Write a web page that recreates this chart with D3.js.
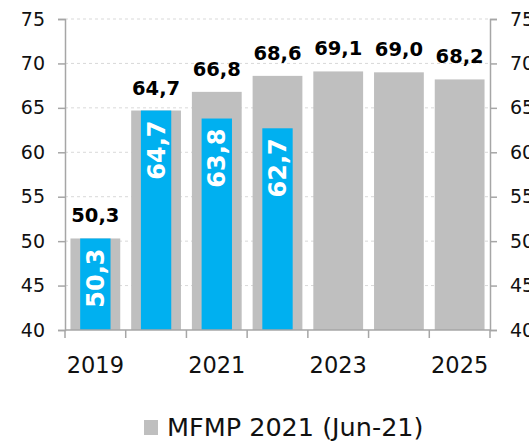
<!DOCTYPE html>
<html>
<head>
<meta charset="utf-8">
<script src="https://cdn.jsdelivr.net/npm/d3@7"></script>
<style>
  html, body { margin: 0; padding: 0; background: #fff; }
  svg { display: block; font-family: "DejaVu Sans", sans-serif; }
</style>
</head>
<body>
<svg id="chart" width="529" height="442"></svg>
<script>
const years = ["2019", "2020", "2021", "2022", "2023", "2024", "2025"];
const mfmpValues = [50.3, 64.7, 66.8, 68.6, 69.1, 69.0, 68.2];
const actualYears = ["2019", "2020", "2021", "2022"];
const actualValues = [50.3, 64.7, 63.8, 62.7];
const yTicks = [40, 45, 50, 55, 60, 65, 70, 75];
const xLabelYears = ["2019", "2021", "2023", "2025"];
const legendLabel = "MFMP 2021 (Jun-21)";

const fmt = v => d3.format(".1f")(v).replace(".", ",");

const svg = d3.select("#chart");
const plotLeft = 65, plotRight = 490, plotTop = 19, plotBottom = 330;

const x = d3.scaleBand().domain(years).range([plotLeft, plotRight]).paddingInner(0).paddingOuter(0);
const y = d3.scaleLinear().domain([40, 75]).range([plotBottom, plotTop]);

const grey = "#bfbfbf", blue = "#00b0f0", axisCol = "#a6a6a6";

// gridlines
svg.append("g").selectAll("line").data(yTicks.filter(t => t > 40)).join("line")
  .attr("x1", plotLeft).attr("x2", plotRight)
  .attr("y1", d => y(d)).attr("y2", d => y(d))
  .attr("stroke", "#d9d9d9").attr("stroke-width", 1).attr("stroke-dasharray", "3,3");

// grey bars
const gw = x.bandwidth() * 0.82;
svg.append("g").selectAll("rect").data(years).join("rect")
  .attr("x", (d) => x(d) + (x.bandwidth() - gw) / 2)
  .attr("width", gw)
  .attr("y", (d, i) => y(mfmpValues[i]))
  .attr("height", (d, i) => y(40) - y(mfmpValues[i]))
  .attr("fill", grey);

// blue bars
const bw = x.bandwidth() * 0.5;
svg.append("g").selectAll("rect").data(actualYears).join("rect")
  .attr("x", d => x(d) + (x.bandwidth() - bw) / 2)
  .attr("width", bw)
  .attr("y", (d, i) => y(actualValues[i]))
  .attr("height", (d, i) => y(40) - y(actualValues[i]))
  .attr("fill", blue);

// top value labels
svg.append("g").selectAll("text").data(years).join("text")
  .attr("x", d => x(d) + x.bandwidth() / 2)
  .attr("y", (d, i) => y(mfmpValues[i]) - 16)
  .attr("text-anchor", "middle")
  .attr("font-weight", "bold")
  .attr("font-size", 19.5)
  .attr("fill", "#000")
  .text((d, i) => fmt(mfmpValues[i]));

// blue bar labels (rotated)
svg.append("g").selectAll("text").data(actualYears).join("text")
  .attr("transform", (d, i) => `translate(${x(d) + x.bandwidth() / 2},${y(actualValues[i]) + 10}) rotate(-90)`)
  .attr("text-anchor", "end")
  .attr("dy", "0.36em")
  .attr("font-weight", "bold")
  .attr("font-size", 24)
  .attr("fill", "#fff")
  .text((d, i) => fmt(actualValues[i]));

// left axis
const yAxisL = d3.axisLeft(y).tickValues(yTicks).tickSize(7).tickPadding(13).tickFormat(d3.format("d"));
const gL = svg.append("g").attr("transform", `translate(${plotLeft},0)`).call(yAxisL);
gL.select(".domain").attr("stroke", axisCol).attr("stroke-width", 1.5);
gL.selectAll(".tick line").attr("stroke", axisCol).attr("stroke-width", 1.5);
gL.selectAll("text").attr("font-size", 19).attr("fill", "#111").attr("font-family", "DejaVu Sans");

// right axis (labels run off the right edge, as in the reference)
const yAxisR = d3.axisRight(y).tickValues(yTicks).tickSize(7).tickPadding(13).tickFormat(d3.format("d"));
const gR = svg.append("g").attr("transform", `translate(${plotRight},0)`).call(yAxisR);
gR.select(".domain").attr("stroke", axisCol).attr("stroke-width", 1.5);
gR.selectAll(".tick line").attr("stroke", axisCol).attr("stroke-width", 1.5);
gR.selectAll("text").attr("font-size", 19).attr("fill", "#111").attr("font-family", "DejaVu Sans");

// bottom axis: line + ticks at band boundaries
const xAxisG = svg.append("g");
xAxisG.append("line").attr("x1", plotLeft).attr("x2", plotRight).attr("y1", plotBottom).attr("y2", plotBottom)
  .attr("stroke", axisCol).attr("stroke-width", 1.5);
const bounds = years.map(d => x(d)).concat([x(years[years.length - 1]) + x.bandwidth()]);
xAxisG.selectAll("line.tk").data(bounds).join("line").attr("class", "tk")
  .attr("x1", d => d).attr("x2", d => d).attr("y1", plotBottom).attr("y2", plotBottom + 8)
  .attr("stroke", axisCol).attr("stroke-width", 1.5);
xAxisG.selectAll("text").data(xLabelYears).join("text")
  .attr("x", d => x(d) + x.bandwidth() / 2)
  .attr("y", 373)
  .attr("text-anchor", "middle")
  .attr("font-size", 22.5)
  .attr("fill", "#111")
  .text(d => d);

// legend
const lg = svg.append("g");
lg.append("rect").attr("x", 144).attr("y", 420).attr("width", 14).attr("height", 15).attr("fill", grey);
lg.append("text").attr("x", 167).attr("y", 436).attr("font-size", 25.5).attr("fill", "#111").text(legendLabel);
</script>
</body>
</html>
